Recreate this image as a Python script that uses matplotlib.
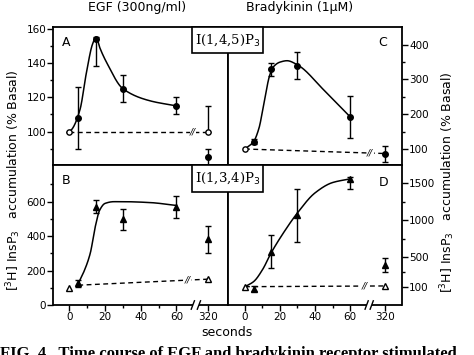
import numpy as np
import matplotlib
matplotlib.use("Agg")
import matplotlib.pyplot as plt
from matplotlib.ticker import FixedLocator
from matplotlib.patches import Rectangle

# ---------------- data ----------------
time_ticks = [0, 20, 40, 60, 320]
time_labels = ["0", "20", "40", "60", "320"]

# Panel A: EGF, I(1,4,5)P3 (% basal)
a_t = [5, 15, 30, 60, 320]
a_y = [108, 154, 125, 115, 85]
a_err_lo = [18, 16, 8, 5, 5]
a_err_hi = [18, 1, 8, 5, 5]
a_ctrl_t = [0, 320]
a_ctrl_y = [100, 100]
a_ctrl_err_hi = [0, 15]
a_curve_t = [0, 1.5, 6, 9.5, 13, 15, 17, 21, 30, 45, 60]
a_curve_y = [100, 101.5, 113, 134, 151, 155, 149, 140, 125, 118, 115]

# Panel B: EGF, I(1,3,4)P3 (% basal)
b_t = [5, 15, 30, 60, 320]
b_y = [125, 570, 497, 570, 381]
b_err = [20, 37, 60, 65, 80]
b_ctrl_t = [0, 5, 320]
b_ctrl_y = [100, 115, 150]
b_curve_t = [5, 8, 11.7, 14.5, 17, 20, 25, 30, 45, 60]
b_curve_y = [125, 190, 300, 454, 551, 590, 600, 600, 595, 578]

# Panel C: bradykinin, I(1,4,5)P3 (% basal)
c_t = [5, 15, 30, 60, 320]
c_y = [121, 329, 340, 193, 86]
c_err = [8, 18, 38, 60, 24]
c_ctrl_t = [0, 320]
c_ctrl_y = [100, 87]
c_curve_t = [0, 5, 8, 10.5, 14, 16, 20, 24, 30, 45, 60]
c_curve_y = [100, 122, 160, 222, 310, 335, 350, 354, 342, 270, 193]

# Panel D: bradykinin, I(1,3,4)P3 (% basal)
d_t = [5, 15, 30, 60, 320]
d_y = [75, 574, 1070, 1553, 394]
d_err_lo = [30, 220, 370, 130, 90]
d_err_hi = [30, 220, 350, 35, 90]
d_ctrl_t = [0, 320]
d_ctrl_y = [100, 110]
d_curve_t = [0, 5, 10, 15, 22, 30, 40, 50, 60]
d_curve_y = [100, 170, 330, 560, 830, 1100, 1370, 1510, 1560]


# ---------------- helpers ----------------
def pchip(x, y, xs):
    x = np.asarray(x, float)
    y = np.asarray(y, float)
    h = np.diff(x)
    d = np.diff(y) / h
    m = np.zeros_like(y)
    for k in range(1, len(x) - 1):
        if d[k - 1] * d[k] <= 0:
            m[k] = 0.0
        else:
            w1 = 2 * h[k] + h[k - 1]
            w2 = h[k] + 2 * h[k - 1]
            m[k] = (w1 + w2) / (w1 / d[k - 1] + w2 / d[k])
    m[0] = d[0]
    m[-1] = d[-1]
    idx = np.clip(np.searchsorted(x, xs) - 1, 0, len(h) - 1)
    t = (xs - x[idx]) / h[idx]
    h00 = 2 * t**3 - 3 * t**2 + 1
    h10 = t**3 - 2 * t**2 + t
    h01 = -2 * t**3 + 3 * t**2
    h11 = t**3 - t**2
    return (h00 * y[idx] + h10 * h[idx] * m[idx] + h01 * y[idx + 1]
            + h11 * h[idx] * m[idx + 1])


def make_pos(brk):
    def pos(t):
        t = np.asarray(t, float)
        return np.where(t <= 60, t, 60 + (brk - 60) * (t - 60) / 260.0)
    return pos


W, H = 474, 355
fig = plt.figure(figsize=(W / 100, H / 100), dpi=100)

L, M, R = 53.3 / W, 228 / W, 402 / W
T, MID, B = 1 - 27 / H, 1 - 165 / H, 1 - 305 / H

axA = fig.add_axes([L, MID, M - L, T - MID])
axB = fig.add_axes([L, B, M - L, MID - B])
axC = fig.add_axes([M, MID, R - M, T - MID])
axD = fig.add_axes([M, B, R - M, MID - B])

posL = make_pos(77.7)
posR = make_pos(80.0)

FS = 7.5
lw = 1.1

for ax, xl in [(axA, (-9.0, 88.9)), (axB, (-9.0, 88.9)),
               (axC, (-9.7, 89.7)), (axD, (-9.7, 89.7))]:
    ax.set_xlim(*xl)
    for s in ax.spines.values():
        s.set_linewidth(1.3)
    ax.tick_params(direction="out", length=4, width=1, labelsize=FS, pad=1.2)
    ax.tick_params(which="minor", direction="out", length=2.5, width=1)

# limits
axA.set_ylim(80.6, 160.9)
axB.set_ylim(0, 813)
axC.set_ylim(54, 451)
axD.set_ylim(-148, 1748)

# y ticks
axA.yaxis.set_major_locator(FixedLocator([100, 120, 140, 160]))
axA.yaxis.set_minor_locator(FixedLocator([90, 110, 130, 150]))
axB.yaxis.set_major_locator(FixedLocator([0, 200, 400, 600]))
axB.yaxis.set_minor_locator(FixedLocator([100, 300, 500, 700]))
axC.yaxis.set_major_locator(FixedLocator([100, 200, 300, 400]))
axC.yaxis.set_minor_locator(FixedLocator([150, 250, 350]))
axD.yaxis.set_major_locator(FixedLocator([100, 500, 1000, 1500]))
axD.yaxis.set_minor_locator(FixedLocator([300, 750, 1250]))
for ax in (axC, axD):
    ax.yaxis.tick_right()

# x ticks
for ax, pos in [(axA, posL), (axB, posL), (axC, posR), (axD, posR)]:
    ax.set_xticks(pos(time_ticks))
    ax.set_xticklabels(time_labels)
    ax.xaxis.set_minor_locator(FixedLocator([10, 30, 50]))
for ax in (axA, axC):
    ax.tick_params(axis="x", which="both", bottom=False, labelbottom=False)

# bottom spine with break
for ax, b0, b1 in [(axB, 69.2, 72.6), (axD, 69.5, 72.4)]:
    ax.spines["bottom"].set_visible(False)
    x0, x1 = ax.get_xlim()
    y0 = ax.get_ylim()[0]
    yr = ax.get_ylim()[1] - y0
    kw = dict(color="black", lw=1.3, clip_on=False, solid_capstyle="butt")
    ax.plot([x0, b0], [y0, y0], **kw)
    ax.plot([b1, x1], [y0, y0], **kw)
    for bx in (b0, b1):
        ax.plot([bx - 0.9, bx + 0.9], [y0 - 0.03 * yr, y0 + 0.03 * yr],
                color="black", lw=1.0, clip_on=False)


def draw_curve(ax, pos, ct, cy):
    xs = np.linspace(ct[0], ct[-1], 300)
    ax.plot(pos(xs), pchip(ct, cy, xs), color="black", lw=lw, zorder=3)


def dashed_with_break(ax, pos, tt, yy, bx):
    px = pos(tt)
    ax.plot(px, yy, color="black", lw=1.0, ls=(0, (3.5, 2.5)), zorder=2)
    yb = np.interp(bx, px, yy)
    ax.text(bx, yb, "//", ha="center", va="center", fontsize=6.5,
            style="italic", zorder=4,
            bbox=dict(facecolor="white", edgecolor="none", pad=0.3))


# Panel A
dashed_with_break(axA, posL, a_ctrl_t, a_ctrl_y, 69.3)
draw_curve(axA, posL, a_curve_t, a_curve_y)
axA.errorbar(posL(a_t), a_y, yerr=[a_err_lo, a_err_hi], fmt="o", ecolor="black",
             elinewidth=1, capsize=2.5, capthick=1, markersize=4, color="black", zorder=5)
axA.errorbar(posL(a_ctrl_t), a_ctrl_y, yerr=[[0, 0], a_ctrl_err_hi], fmt="o",
             mfc="white", mec="black", ecolor="black", elinewidth=1, capsize=2.5,
             capthick=1, markersize=3.8, zorder=6)

# Panel B
dashed_with_break(axB, posL, b_ctrl_t[1:], b_ctrl_y[1:], 66.5)
draw_curve(axB, posL, b_curve_t, b_curve_y)
axB.errorbar(posL(b_t), b_y, yerr=b_err, fmt="^", ecolor="black", elinewidth=1,
             capsize=2.5, capthick=1, markersize=5, color="black", zorder=5)
axB.plot(posL([b_ctrl_t[0], b_ctrl_t[-1]]), [b_ctrl_y[0], b_ctrl_y[-1]], "^",
         mfc="white", mec="black", markersize=5, ls="none", zorder=6)

# Panel C
dashed_with_break(axC, posR, c_ctrl_t, c_ctrl_y, 71.5)
draw_curve(axC, posR, c_curve_t, c_curve_y)
axC.errorbar(posR(c_t), c_y, yerr=c_err, fmt="o", ecolor="black", elinewidth=1,
             capsize=2.5, capthick=1, markersize=4, color="black", zorder=5)
axC.plot(posR(c_ctrl_t[:1]), c_ctrl_y[:1], "o", mfc="white", mec="black",
         markersize=3.8, zorder=6)

# Panel D
dashed_with_break(axD, posR, d_ctrl_t, d_ctrl_y, 68.5)
draw_curve(axD, posR, d_curve_t, d_curve_y)
axD.errorbar(posR(d_t), d_y, yerr=[d_err_lo, d_err_hi], fmt="^", ecolor="black",
             elinewidth=1, capsize=2.5, capthick=1, markersize=5, color="black", zorder=5)
axD.plot(posR(d_ctrl_t), d_ctrl_y, "^", mfc="white", mec="black", markersize=5,
         ls="none", zorder=6)

# panel letters
fig.text(66 / W, 1 - 43 / H, "A", fontsize=9, ha="center", va="center")
fig.text(66 / W, 1 - 180 / H, "B", fontsize=9, ha="center", va="center")
fig.text(383 / W, 1 - 43 / H, "C", fontsize=9, ha="center", va="center")
fig.text(384 / W, 1 - 182 / H, "D", fontsize=9, ha="center", va="center")

# boxed labels
for (y_top, y_bot, txt) in [(27, 52.7, r"I(1,4,5)P$_3$"),
                            (165, 191.7, r"I(1,3,4)P$_3$")]:
    x0, x1 = 191.7, 263.3
    rect = Rectangle((x0 / W, 1 - y_bot / H), (x1 - x0) / W, (y_bot - y_top) / H,
                     transform=fig.transFigure, facecolor="white", edgecolor="black",
                     lw=1.2, zorder=10)
    fig.add_artist(rect)
    fig.text((x0 + x1) / 2 / W, 1 - (y_top + y_bot) / 2 / H, txt, fontsize=9.5,
             family="DejaVu Serif", ha="center", va="center", zorder=11)

# titles
fig.text(137 / W, 1 - 8 / H, "EGF (300ng/ml)", fontsize=9, ha="center", va="center")
fig.text(300 / W, 1 - 7 / H, "Bradykinin (1\u03bcM)", fontsize=9, ha="center", va="center")

# y labels
ylab = r"[$^3$H] InsP$_3$   accumulation (% Basal)"
fig.text(14 / W, 1 - 180 / H, ylab, rotation=90, fontsize=9, ha="center", va="center")
fig.text(448 / W, 1 - 182 / H, ylab, rotation=90, fontsize=9, ha="center", va="center")

# x label
fig.text(227 / W, 1 - 333 / H, "seconds", fontsize=9, ha="center", va="center")

# caption (cut at figure bottom, as in the reference)
fig.text(0.0, 1 - 346 / H,
         "FIG. 4.  Time course of EGF and bradykinin receptor stimulated",
         fontsize=12, weight="bold", family="Liberation Serif", ha="left", va="top")

fig.savefig("out.png", dpi=100)
